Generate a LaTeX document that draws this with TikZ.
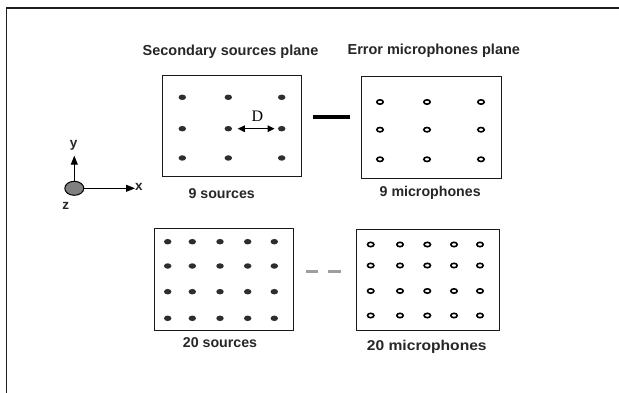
\documentclass[tikz,border=0pt]{standalone}
\usepackage{fontspec}
\setmainfont{Liberation Sans}
\newfontfamily\dserif{Liberation Serif}
\usetikzlibrary{arrows.meta,shapes.geometric}
\tikzset{
  panel/.style={draw=black!90,line width=1pt,rectangle,inner sep=0pt,fill=none},
  srcdot/.style={ellipse,fill=black!82,draw=none,minimum width=7.5pt,minimum height=5.5pt,inner sep=0pt},
  micdot/.style={ellipse,draw=black,line width=1.6pt,fill=white,minimum width=6.4pt,minimum height=4.4pt,inner sep=0pt},
  title/.style={font=\bfseries\fontsize{14.5}{17}\selectfont,anchor=base,inner sep=0pt,text=black!85},
  caption/.style={font=\bfseries\fontsize{14.2}{17}\selectfont,anchor=base,inner sep=0pt,text=black!85},
  axlabel/.style={font=\bfseries\fontsize{13.5}{16}\selectfont,anchor=base,inner sep=0pt,text=black!85},
  axarrow/.style={draw=black,line width=1pt,-{Triangle[length=9pt,width=7pt]}},
  darrow/.style={draw=black,line width=1.2pt,{Triangle[length=7pt,width=6.5pt]}-{Triangle[length=7pt,width=6.5pt]}},
  frameline/.style={draw=black!88,line width=1.5pt},
  thickbar/.style={draw=black,line width=3.6pt},
  dashbar/.style={draw=black!38,line width=2.8pt,dash pattern=on 12.3pt off 10pt}
}
\begin{document}
\begin{tikzpicture}[x=1pt,y=-1pt]
\useasboundingbox (0,0) rectangle (619,393);
% frame
\coordinate (ftl) at (6.7,8);
\coordinate (ftr) at (619,8);
\coordinate (fbl) at (6.7,393);
\draw[frameline] (fbl) -- (ftl) -- (ftr);

% titles
\node[title] (t1) at (230.5,55.5) {Secondary sources plane};
\node[title] (t2) at (433.8,55) {Error microphones plane};

% panels
\node[panel,minimum width=139.4pt,minimum height=101pt] (s9) at (232,126.2) {};
\node[panel,minimum width=140pt,minimum height=101.6pt] (m9) at (431.3,127.5) {};
\node[panel,minimum width=139pt,minimum height=102pt] (s20) at (223.8,279.3) {};
\node[panel,minimum width=142.6pt,minimum height=101.7pt] (m20) at (428,279.85) {};

% 9 sources
\foreach \y [count=\i] in {97.3,128.7,158}
  \foreach \x [count=\j] in {182.3,228.3,281.7}
    \node[srcdot] (s9-\i-\j) at (\x,\y) {};
% 9 microphones
\foreach \y [count=\i] in {102,129.7,159.3}
  \foreach \x [count=\j] in {380,427,481}
    \node[micdot] (m9-\i-\j) at (\x,\y) {};
% 20 sources
\foreach \y [count=\i] in {241.7,266,291.7,318.3}
  \foreach \x [count=\j] in {167.7,192.3,220,247.7,274.3}
    \node[srcdot] (s20-\i-\j) at (\x,\y) {};
% 20 microphones
\foreach \y [count=\i] in {244.5,265.5,291,315.5}
  \foreach \x [count=\j] in {370.7,400,427.3,454,480}
    \node[micdot] (m20-\i-\j) at (\x,\y) {};

% D arrow
\draw[darrow,shorten <=5.5pt,shorten >=3.2pt] (s9-2-2) -- (s9-2-3);
\node[font=\dserif\fontsize{16}{18}\selectfont,anchor=base,inner sep=0pt] (dlab) at (257.5,121.7) {D};

% links between planes
\coordinate (b1) at (313,117.3);
\coordinate (b2) at (350,117.3);
\draw[thickbar] (b1) -- (b2);
\coordinate (g1) at (306,271.7);
\coordinate (g2) at (340.5,271.7);
\draw[dashbar] (g1) -- (g2);

% captions
\node[caption] (c1) at (221.7,198.3) {9 sources};
\node[caption] (c2) at (430.2,196.7) {9 microphones};
\node[caption] (c3) at (220,347.7) {20 sources};
\node[caption,xscale=1.1] (c4) at (426.8,350) {20 microphones};

% axes
\node[ellipse,draw=black,line width=1pt,fill=black!50,minimum width=19pt,minimum height=14pt,inner sep=0pt] (orig) at (74.3,188.3) {};
\coordinate (xend) at (135,188.3);
\coordinate (yend) at (74.3,155.7);
\draw[axarrow] (orig.east) -- (xend);
\draw[axarrow] (orig.north) -- (yend);
\node[axlabel] (xl) at (139,190.7) {x};
\node[axlabel] (yl) at (73.7,147.7) {y};
\node[axlabel] (zl) at (65.7,209.3) {z};
\end{tikzpicture}
\end{document}
